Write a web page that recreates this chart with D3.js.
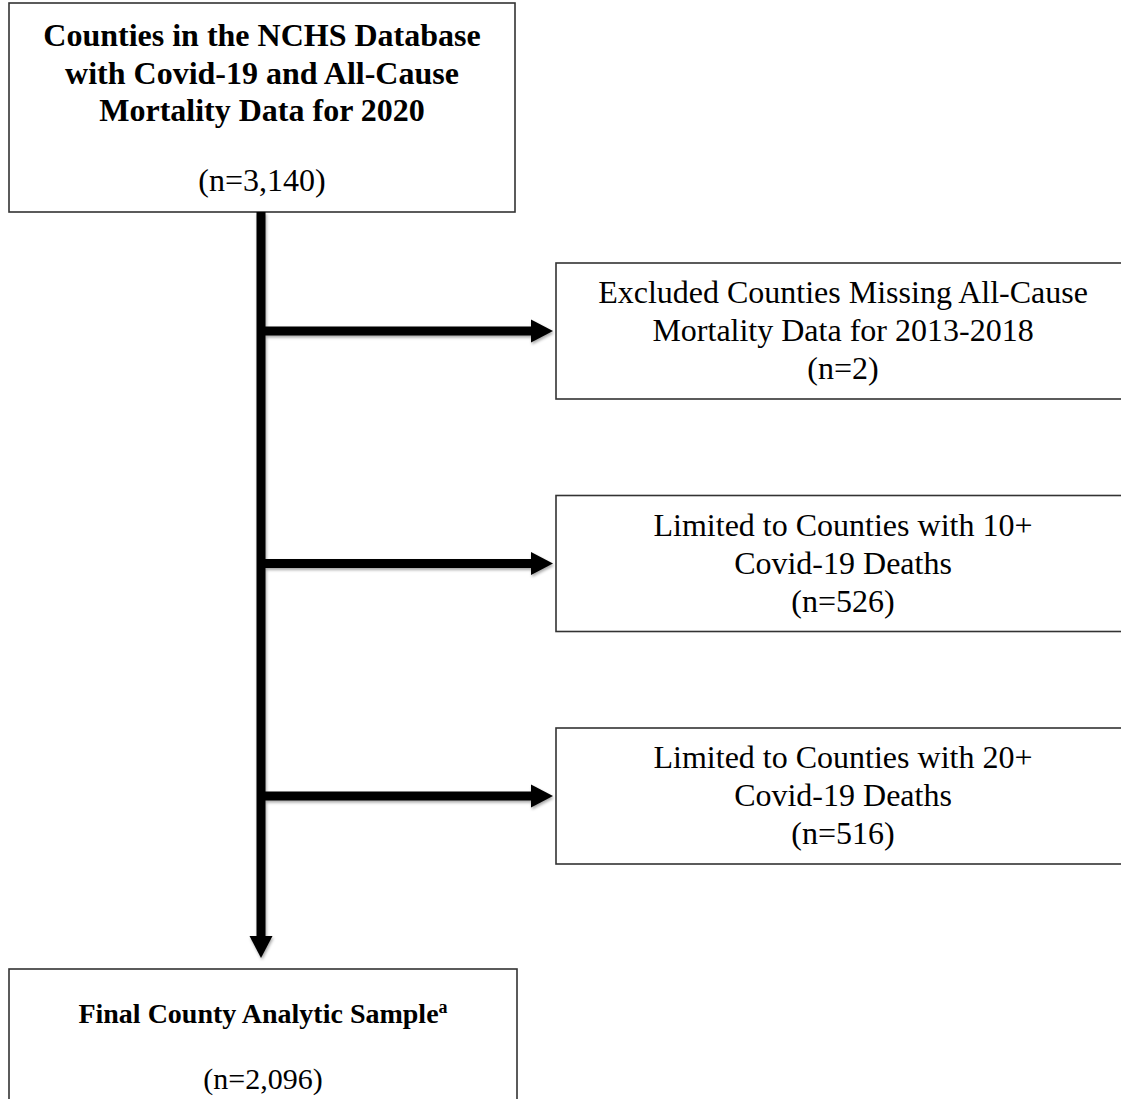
<html>
<script src="https://d3js.org/d3.v7.min.js"></script>
<body style="margin:0;background:#fff">
<svg width="1121" height="1099"></svg>
<script>

// flowchart content
var topTitle = ["Counties in the NCHS Database", "with Covid-19 and All-Cause", "Mortality Data for 2020"];
var topCount = 3140;
var stepNames = ["missing", "ten", "twenty"];
var stepLabels = [
    ["Excluded Counties Missing All-Cause", "Mortality Data for 2013-2018"],
    ["Limited to Counties with 10+", "Covid-19 Deaths"],
    ["Limited to Counties with 20+", "Covid-19 Deaths"]
];
var stepCounts = [2, 526, 516];
var finalTitle = "Final County Analytic Sample";
var finalNote = "a";
var finalCount = 2096;

var fmt = d3.format(",");
var svg = d3.select("svg");
var font = "'Liberation Serif', 'Times New Roman', serif";
var boxStroke = "#333";
var fs = "32px";

// shadow for arrows
var defs = svg.append("defs");
defs.append("filter").attr("id", "shadow")
    .attr("x", "-20%").attr("y", "-20%").attr("width", "140%").attr("height", "160%")
    .append("feDropShadow")
    .attr("dx", 1).attr("dy", 2).attr("stdDeviation", 1.5)
    .attr("flood-color", "#000").attr("flood-opacity", 0.35);

// layout
var mainX = 261;
var topBox = {x: 9, y: 3, w: 506, h: 209};
var finalBox = {x: 9, y: 969, w: 508, h: 150};
var stepX = 556, stepW = 580, stepH = 136;
var y = d3.scalePoint().domain(stepNames).range([331, 796]);

// top box
svg.append("rect")
    .attr("x", topBox.x).attr("y", topBox.y).attr("width", topBox.w).attr("height", topBox.h)
    .attr("fill", "white").attr("stroke", boxStroke).attr("stroke-width", 1.6);

svg.append("g").selectAll("text")
    .data(topTitle)
    .enter().append("text")
    .attr("x", topBox.x + topBox.w / 2)
    .attr("y", function(d, i) { return 46 + i * 37.5; })
    .attr("text-anchor", "middle")
    .style("font-family", font).style("font-size", fs).style("font-weight", "bold")
    .text(function(d) { return d; });

svg.append("text")
    .attr("x", topBox.x + topBox.w / 2).attr("y", 191)
    .attr("text-anchor", "middle")
    .style("font-family", font).style("font-size", fs)
    .text("(n=" + fmt(topCount) + ")");

var arrows = svg.append("g").attr("filter", "url(#shadow)").attr("fill", "black");

// main vertical arrow
arrows.append("rect")
    .attr("x", mainX - 4.5).attr("y", topBox.y + topBox.h)
    .attr("width", 9).attr("height", 936 - topBox.y - topBox.h + 1);
arrows.append("path")
    .attr("d", "M" + (mainX - 11.5) + ",936 L" + (mainX + 11.5) + ",936 L" + mainX + "," + (finalBox.y - 11) + "Z");

// side arrows
var steps = stepNames.map(function(n, i) { return {name: n, label: stepLabels[i], count: stepCounts[i]}; });

arrows.selectAll(".shaft")
    .data(steps)
    .enter().append("rect")
    .attr("class", "shaft")
    .attr("x", mainX).attr("y", function(d) { return y(d.name) - 4.5; })
    .attr("width", stepX - 24 - mainX + 1).attr("height", 9);

arrows.selectAll(".head")
    .data(steps)
    .enter().append("path")
    .attr("class", "head")
    .attr("d", function(d) {
        var cy = y(d.name);
        return "M" + (stepX - 25) + "," + (cy - 11.5) + " L" + (stepX - 3) + "," + cy + " L" + (stepX - 25) + "," + (cy + 11.5) + "Z";
    });

// side boxes
var box = svg.selectAll(".step")
    .data(steps)
    .enter().append("g")
    .attr("class", "step")
    .attr("transform", function(d) { return "translate(" + stepX + "," + (y(d.name) - stepH / 2) + ")"; });

box.append("rect")
    .attr("width", stepW).attr("height", stepH)
    .attr("fill", "white").attr("stroke", boxStroke).attr("stroke-width", 1.6);

box.each(function(d) {
    var g = d3.select(this);
    var lines = d.label.concat(["(n=" + fmt(d.count) + ")"]);
    g.selectAll("text")
        .data(lines)
        .enter().append("text")
        .attr("x", 287)
        .attr("y", function(t, i) { return stepH / 2 + 10 + (i - 1) * 38; })
        .attr("text-anchor", "middle")
        .style("font-family", font).style("font-size", fs)
        .text(function(t) { return t; });
});

// final box
svg.append("rect")
    .attr("x", finalBox.x).attr("y", finalBox.y).attr("width", finalBox.w).attr("height", finalBox.h)
    .attr("fill", "white").attr("stroke", boxStroke).attr("stroke-width", 1.6);

var ft = svg.append("text")
    .attr("x", finalBox.x + finalBox.w / 2).attr("y", finalBox.y + 54)
    .attr("text-anchor", "middle")
    .style("font-family", font).style("font-size", "28px").style("font-weight", "bold");
ft.append("tspan").text(finalTitle);
ft.append("tspan").attr("dy", -10).style("font-size", "18px").text(finalNote);

svg.append("text")
    .attr("x", finalBox.x + finalBox.w / 2).attr("y", finalBox.y + 120)
    .attr("text-anchor", "middle")
    .style("font-family", font).style("font-size", "30px")
    .text("(n=" + fmt(finalCount) + ")");

</script>
</body>
</html>
